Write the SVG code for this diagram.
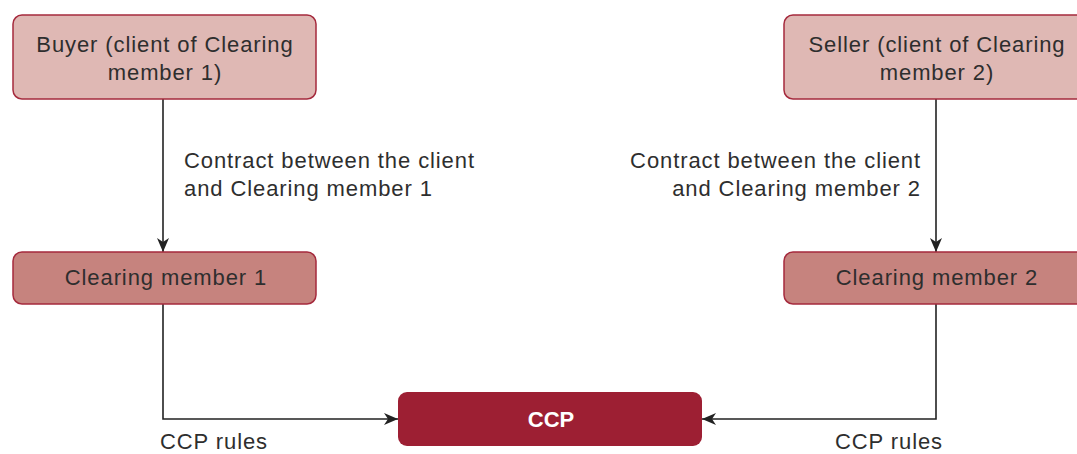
<svg xmlns="http://www.w3.org/2000/svg" width="1077" height="454" viewBox="0 0 1077 454">
<style>
.t{font-family:"Liberation Sans",Arial,sans-serif;font-size:22px;letter-spacing:0.9px;fill:#2e2e2e}
.c{text-anchor:middle}
.r{text-anchor:end}
.light{fill:#dfb8b4;stroke:#a52a3d;stroke-width:1.5}
.mid{fill:#c6837e;stroke:#a52a3d;stroke-width:1.5}
.dark{fill:#9d1f33}
.ln{fill:none;stroke:#222;stroke-width:1.6}
</style>
<defs>
<marker id="ah" viewBox="0 0 14 12" refX="14" refY="6" markerWidth="14" markerHeight="12" markerUnits="userSpaceOnUse" orient="auto">
<path d="M0,0 L14,6 L0,12 L4,6 Z" fill="#222"/>
</marker>
</defs>
<g id="connectors">
<path class="ln" d="M163,99 V252" marker-end="url(#ah)"/>
<path class="ln" d="M936,99 V252" marker-end="url(#ah)"/>
<path class="ln" d="M163,304 V419 H398" marker-end="url(#ah)"/>
<path class="ln" d="M936,304 V419 H702" marker-end="url(#ah)"/>
<text class="t" x="184" y="168">Contract between the client</text>
<text class="t" x="184" y="196">and Clearing member 1</text>
<text class="t r" x="921" y="168">Contract between the client</text>
<text class="t r" x="921" y="196">and Clearing member 2</text>
<text class="t" x="160" y="449">CCP rules</text>
<text class="t" x="835" y="449">CCP rules</text>
</g>
<g id="buyer">
<rect class="light" x="13" y="15" width="303" height="84" rx="9"/>
<text class="t c" x="165" y="52">Buyer (client of Clearing</text>
<text class="t c" x="165" y="80">member 1)</text>
</g>
<g id="seller">
<rect class="light" x="784" y="15" width="304" height="84" rx="9"/>
<text class="t c" x="937" y="52">Seller (client of Clearing</text>
<text class="t c" x="937" y="80">member 2)</text>
</g>
<g id="cm1">
<rect class="mid" x="13" y="252" width="303" height="52" rx="9"/>
<text class="t c" x="166" y="285">Clearing member 1</text>
</g>
<g id="cm2">
<rect class="mid" x="784" y="252" width="304" height="52" rx="9"/>
<text class="t c" x="937" y="285">Clearing member 2</text>
</g>
<g id="ccp">
<rect class="dark" x="398" y="392" width="304" height="54" rx="9"/>
<text class="t c" x="551" y="427" style="fill:#fff;font-weight:bold;letter-spacing:0">CCP</text>
</g>
</svg>
